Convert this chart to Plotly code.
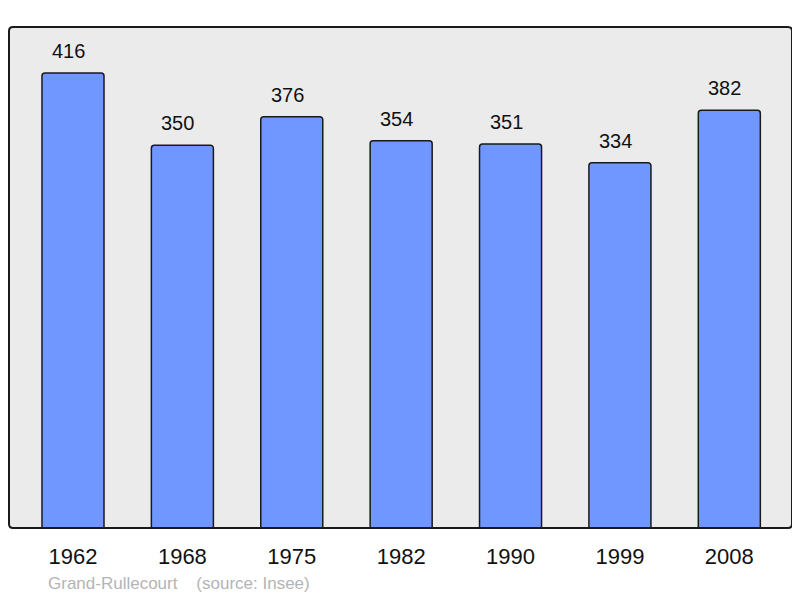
import plotly.graph_objects as go

years = ["1962", "1968", "1975", "1982", "1990", "1999", "2008"]
population = [416, 350, 376, 354, 351, 334, 382]

xs = list(range(len(years)))

# page body has 8px margin -> figure is offset by 8px
PW, PH = 783, 501  # plot area size in px

fig = go.Figure()
fig.add_trace(go.Bar(
    x=xs, y=population, width=0.567,
    marker=dict(color="#7096ff", line=dict(color="#1a1a1a", width=1.5), cornerradius=3),
    hoverinfo="skip",
))

for i, v in zip(xs, population):
    fig.add_annotation(x=i, y=v, text=str(v), showarrow=False, yanchor="bottom",
                       yshift=9, xshift=-4.5,
                       font=dict(family="Liberation Sans, Arial", size=20, color="#111"))

fig.add_annotation(xref="paper", yref="paper", x=(46 - 9) / PW, y=-(583 - 528) / PH,
                   xanchor="left", yanchor="middle", showarrow=False,
                   text="Grand-Rullecourt\u00a0\u00a0\u00a0\u00a0(source: Insee)",
                   font=dict(family="Liberation Sans, Arial", size=17, color="#b4b4b4"))

rx, ry = 4 / PW, 4 / PH
path = (f"M {rx},0 L {1-rx},0 Q 1,0 1,{ry} L 1,{1-ry} Q 1,1 {1-rx},1 "
        f"L {rx},1 Q 0,1 0,{1-ry} L 0,{ry} Q 0,0 {rx},0 Z")
fig.add_shape(type="path", xref="paper", yref="paper", path=path,
              line=dict(color="#1a1a1a", width=2), layer="above")

fig.update_layout(
    width=792, height=590,
    margin=dict(l=1, r=8, t=19, b=70),
    paper_bgcolor="white", plot_bgcolor="#ebebeb",
    showlegend=False,
    xaxis=dict(range=[-0.585, 6.573], tickvals=xs, ticktext=years, showgrid=False,
               zeroline=False, ticks="", ticklen=0, showline=False, ticklabelstandoff=13,
               tickfont=dict(family="Liberation Sans, Arial", size=22, color="#111")),
    yaxis=dict(range=[0, 458], visible=False, showgrid=False, zeroline=False),
)

fig.write_html("out.html")
